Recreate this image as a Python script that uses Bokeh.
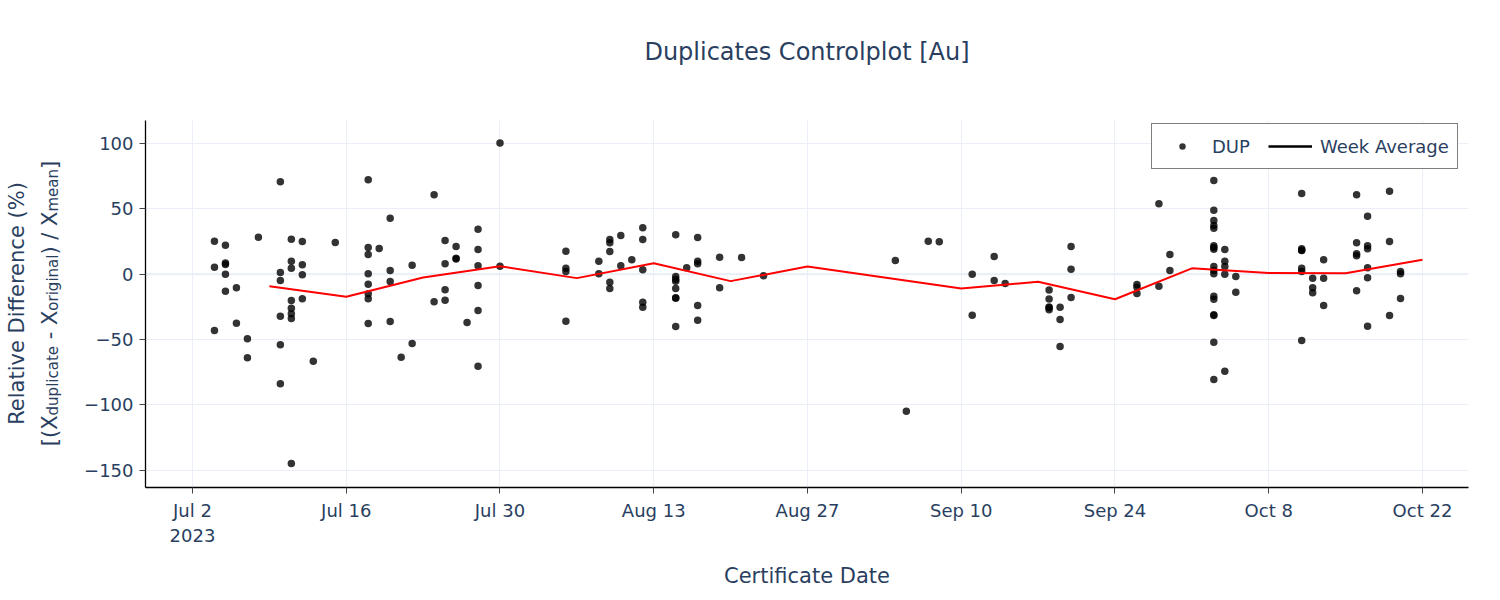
import math
import pandas as pd
from bokeh.plotting import figure
from bokeh.layouts import row
from bokeh.models import Range1d, FixedTicker, Label, Legend, LegendItem, Span
from bokeh.embed import file_html
from bokeh.resources import INLINE

# ---------------- data ----------------
dup_dates = (
    ["2023-07-04"] * 3 + ["2023-07-05"] * 5 + ["2023-07-06"] * 2 + ["2023-07-07"] * 2 +
    ["2023-07-08"] * 1 + ["2023-07-10"] * 6 + ["2023-07-11"] * 8 + ["2023-07-12"] * 4 +
    ["2023-07-13"] * 1 + ["2023-07-15"] * 1 + ["2023-07-18"] * 8 + ["2023-07-19"] * 1 +
    ["2023-07-20"] * 4 + ["2023-07-21"] * 1 + ["2023-07-22"] * 2 + ["2023-07-24"] * 2 +
    ["2023-07-25"] * 4 + ["2023-07-26"] * 3 + ["2023-07-27"] * 1 + ["2023-07-28"] * 6 +
    ["2023-07-30"] * 2 + ["2023-08-05"] * 4 + ["2023-08-08"] * 2 + ["2023-08-09"] * 5 +
    ["2023-08-10"] * 2 + ["2023-08-11"] * 1 + ["2023-08-12"] * 5 + ["2023-08-15"] * 8 +
    ["2023-08-16"] * 1 + ["2023-08-17"] * 5 + ["2023-08-19"] * 2 + ["2023-08-21"] * 1 +
    ["2023-08-23"] * 1 + ["2023-09-04"] * 1 + ["2023-09-05"] * 1 + ["2023-09-07"] * 1 +
    ["2023-09-08"] * 1 + ["2023-09-11"] * 2 + ["2023-09-13"] * 2 + ["2023-09-14"] * 1 +
    ["2023-09-18"] * 5 + ["2023-09-19"] * 3 + ["2023-09-20"] * 3 + ["2023-09-26"] * 3 +
    ["2023-09-28"] * 2 + ["2023-09-29"] * 2 + ["2023-10-03"] * 17 + ["2023-10-04"] * 5 +
    ["2023-10-05"] * 2 + ["2023-10-11"] * 7 + ["2023-10-12"] * 3 + ["2023-10-13"] * 3 +
    ["2023-10-16"] * 5 + ["2023-10-17"] * 6 + ["2023-10-19"] * 3 + ["2023-10-20"] * 3
)
dup_values = [
    25.3, 5.4, -43.1,
    22.2, 8.5, 7.5, 0.0, -13.0,
    -10.4, -37.5,
    -49.4, -64.0,
    28.3,
    70.7, 1.3, -4.8, -32.1, -54.0, -83.9,
    26.8, 9.9, 4.6, -20.1, -26.0, -30.3, -33.9, -144.9,
    25.0, 7.2, -0.5, -18.8,
    -66.6,
    24.3,
    72.2, 20.4, 15.1, 0.3, -7.7, -15.0, -18.8, -37.7,
    19.7,
    42.9, 2.8, -5.6, -36.2,
    -63.5,
    6.9, -53.0,
    60.8, -21.1,
    25.8, 8.0, -11.9, -19.9,
    21.2, 12.3, 11.7,
    -37.0,
    34.4, 18.9, 6.4, -8.6, -27.8, -70.4,
    100.3, 6.1,
    17.6, 4.6, 2.1, -36.0,
    9.9, 0.3,
    26.6, 24.0, 17.4, -6.1, -10.9,
    29.6, 6.4,
    11.0,
    35.5, 26.6, 3.4, -21.4, -25.3,
    30.2, -1.8, -3.8, -5.4, -10.9, -18.1, -18.4, -40.0,
    4.9,
    28.1, 9.9, 8.0, -24.0, -35.2,
    13.0, -10.4,
    12.8,
    -1.2,
    10.5,
    -104.8,
    25.3,
    24.8,
    0.0, -31.4,
    13.5, -4.8,
    -7.1,
    -12.0, -18.9, -25.0, -25.6, -27.2,
    -25.3, -34.7, -55.3,
    21.2, 3.8, -17.8,
    -7.9, -9.9, -14.8,
    53.9, -9.2,
    15.1, 2.8,
    71.7, 49.0, 41.1, 37.3, 35.2, 21.7, 20.5, 19.1, 5.9, 2.8, 0.3, -16.8, -19.1, -31.1, -31.6, -52.0, -80.6,
    18.9, 9.9, 5.9, 0.0, -74.2,
    -1.8, -13.8,
    61.8, 19.4, 18.4, 18.1, 4.6, 2.1, -50.7,
    -3.1, -10.4, -14.2,
    11.0, -3.1, -24.0,
    60.8, 24.0, 15.6, 14.1, -12.7,
    44.4, 21.7, 19.4, 4.9, -2.8, -39.8,
    63.5, 25.0, -31.6,
    2.1, 0.3, -18.6,
]

week_dates = ["2023-07-09", "2023-07-16", "2023-07-23", "2023-07-30", "2023-08-06",
              "2023-08-13", "2023-08-20", "2023-08-27", "2023-09-10", "2023-09-17",
              "2023-09-24", "2023-10-01", "2023-10-08", "2023-10-15", "2023-10-22"]
week_values = [-9.2, -17.2, -2.5, 6.1, -3.0, 8.4, -5.3, 5.9, -11.0, -5.7,
               -19.2, 4.5, 1.0, 0.7, 11.0]

x_tick_dates = ["2023-07-02", "2023-07-16", "2023-07-30", "2023-08-13", "2023-08-27",
                "2023-09-10", "2023-09-24", "2023-10-08", "2023-10-22"]
x_tick_labels = ["Jul 2\n2023", "Jul 16", "Jul 30", "Aug 13", "Aug 27",
                 "Sep 10", "Sep 24", "Oct 8", "Oct 22"]
y_ticks = [-150, -100, -50, 0, 50, 100]
y_tick_labels = ["\u2212150", "\u2212100", "\u221250", "0", "50", "100"]

title_text = "Duplicates Controlplot [Au]"
x_title = "Certificate Date"
y_title_1 = "Relative Difference (%)"
y_title_2 = [("[(X", False), ("duplicate", True), (" - X", False), ("original", True),
             (") / X", False), ("mean", True), ("]", False)]

# ---------------- styling ----------------
FONT = "DejaVu Sans"
TXT = "#2a3f5f"
GRID = "#EBF0F8"
H = 600
LAB_W = 72
TOP, BOTTOM = 120, 113

xd = pd.to_datetime(dup_dates)
wd = pd.to_datetime(week_dates)
t0 = pd.Timestamp("2023-07-02")
x_start = t0 - pd.Timedelta(days=4.28)
x_end = t0 + pd.Timedelta(days=116.19)

# a trailing empty line lifts the title inside its panel without growing the panel
p = figure(width=1500 - LAB_W, height=H, x_axis_type="datetime",
           x_range=Range1d(x_start, x_end), y_range=Range1d(-163.2, 117.6),
           output_backend="svg", toolbar_location=None, title=title_text + "\n",
           min_border_left=145 - LAB_W, min_border_right=32, min_border_top=TOP,
           min_border_bottom=BOTTOM)
p.outline_line_color = None
p.background_fill_color = "white"

p.title.align = "center"
p.title.vertical_align = "top"
p.title.text_font = FONT
p.title.text_font_size = "24px"
p.title.text_font_style = "normal"
p.title.text_color = TXT
p.title.standoff = 49

xt_ms = [int(pd.Timestamp(d).value // 10**6) for d in x_tick_dates]
p.xaxis.ticker = FixedTicker(ticks=xt_ms)
p.xaxis.major_label_overrides = {k: v for k, v in zip(xt_ms, x_tick_labels)}
p.yaxis.ticker = FixedTicker(ticks=y_ticks)
p.yaxis.major_label_overrides = {k: v for k, v in zip(y_ticks, y_tick_labels)}

for ax in (p.xaxis, p.yaxis):
    ax.axis_line_color = "black"
    ax.axis_line_width = 1.3
    ax.major_tick_line_color = "#444444"
    ax.major_tick_out = 6
    ax.major_tick_in = 0
    ax.minor_tick_line_color = None
    ax.major_label_text_font = FONT
    ax.major_label_text_font_size = "18px"
    ax.major_label_text_color = TXT
    ax.major_label_standoff = 6

p.xaxis.axis_label = x_title
p.xaxis.axis_label_text_font = FONT
p.xaxis.axis_label_text_font_size = "21px"
p.xaxis.axis_label_text_font_style = "normal"
p.xaxis.axis_label_text_color = TXT
p.xaxis.axis_label_standoff = 15

p.xgrid.grid_line_color = GRID
p.ygrid.grid_line_color = GRID
p.add_layout(Span(location=0, dimension="width", line_color=GRID, line_width=2.2,
                  level="underlay"))

p.scatter(xd, dup_values, size=7.5, fill_color="black", fill_alpha=0.8, line_color=None)
p.line(wd, week_values, line_color="red", line_width=2)

# legend proxies (the reference legend shows black marks); NaN values draw nothing
leg_dot = p.scatter(x=[t0], y=[float("nan")], size=6, fill_color="black",
                    fill_alpha=0.8, line_color=None)
leg_line = p.line(x=[t0], y=[float("nan")], line_color="black", line_width=2.5)
legend = Legend(items=[LegendItem(label="DUP", renderers=[leg_dot]),
                       LegendItem(label="Week Average", renderers=[leg_line])],
                location=(1006, 318), orientation="horizontal",
                border_line_color="black", border_line_width=1.3,
                background_fill_color="white", background_fill_alpha=1.0,
                label_text_font=FONT, label_text_font_size="18px", label_text_color=TXT,
                glyph_width=44, glyph_height=16, label_height=28,
                label_standoff=8, spacing=18, padding=8, margin=0)
p.add_layout(legend)

# ---------------- y axis title panel (separate figure; its frame spans page y 120..487,
# and its y range is set so that data y = 600 - page y) ----------------
q = figure(width=LAB_W, height=H, x_range=Range1d(0, LAB_W),
           y_range=Range1d(BOTTOM, H - TOP),
           output_backend="svg", toolbar_location=None,
           min_border_left=0, min_border_right=0, min_border_top=TOP,
           min_border_bottom=BOTTOM, x_axis_location=None, y_axis_location=None)
q.outline_line_color = None
q.grid.visible = False

q.add_layout(Label(x=16, y=H - 303, text=y_title_1, angle=math.pi / 2,
                   text_align="center", text_baseline="middle", text_font=FONT,
                   text_font_size="21px", text_color=TXT))

W = {'[': .390, ']': .390, '(': .390, ')': .390, 'X': .684, ' ': .318, '-': .361,
     '/': .337, 'd': .635, 'u': .634, 'p': .635, 'l': .278, 'i': .278, 'c': .550,
     'a': .613, 't': .392, 'e': .615, 'o': .612, 'r': .411, 'g': .635, 'n': .634,
     'm': .974}
MAIN, SUB = 21, 15
total = sum(sum(W[c] for c in t) * (SUB if s else MAIN) for t, s in y_title_2)
pos = (H - 303) - total / 2
for t, s in y_title_2:
    size = SUB if s else MAIN
    lead = len(t) - len(t.lstrip(" "))
    pos += lead * W[" "] * size
    tt = t.lstrip(" ")
    q.add_layout(Label(x=(52 if s else 49), y=pos, text=tt, angle=math.pi / 2,
                       text_align="left", text_baseline="alphabetic", text_font=FONT,
                       text_font_size=f"{size}px", text_color=TXT))
    pos += sum(W[c] for c in tt) * size

layout = row(q, p)
open("out.html", "w").write(file_html(layout, INLINE))
